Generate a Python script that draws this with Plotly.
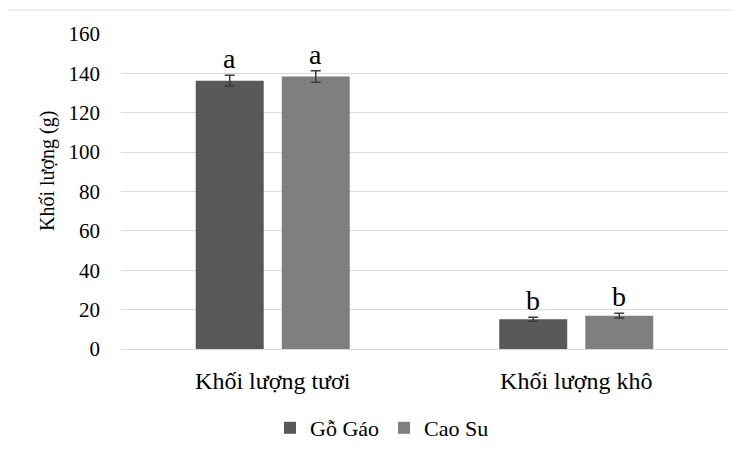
import plotly.graph_objects as go

categories = ["Khối lượng tươi", "Khối lượng khô"]
series_names = ["Gỗ Gáo", "Cao Su"]
go_gao = [136.3, 15.1]
cao_su = [138.4, 16.9]
go_gao_err = [2.7, 1.0]
cao_su_err = [2.9, 1.2]
go_gao_letters = ["a", "b"]
cao_su_letters = ["a", "b"]
y_ticks = [0, 20, 40, 60, 80, 100, 120, 140, 160]
y_title = "Khối lượng (g)"

colors = ["#595959", "#7f7f7f"]
font_family = "'Times New Roman', 'Liberation Serif', serif"

# page body has an 8px default margin; work in screen pixels and convert
O = 8
SW, SH = 739, 452
W, H = SW - O, SH - O
plot_left, plot_right, plot_top, plot_bottom = 121, 728, 34, 349
ml = plot_left - O
mr = SW - plot_right
mt = plot_top - O
mb = SH - plot_bottom
pw = plot_right - plot_left
ph = plot_bottom - plot_top


def px_x(p):
    return (p - plot_left) / pw


def px_y(p):
    return (plot_bottom - p) / ph


fig = go.Figure()
values = [go_gao, cao_su]
errs = [go_gao_err, cao_su_err]
letters = [go_gao_letters, cao_su_letters]
for name, vals, err, col in zip(series_names, values, errs, colors):
    fig.add_trace(go.Bar(
        name=name, x=categories, y=vals, marker=dict(color=col, line=dict(width=0)),
        error_y=dict(type="data", array=err, visible=True, color="#3a3a3a", thickness=1.5, width=5),
    ))

bargap = 0.433
offset = (1 - bargap) / 4
for s, (vals, err, lets) in enumerate(zip(values, errs, letters)):
    for i, (v, e, t) in enumerate(zip(vals, err, lets)):
        fig.add_annotation(
            x=i + (-offset if s == 0 else offset), y=v + e, xref="x", yref="y",
            text=t, showarrow=False, yanchor="bottom", yshift=-1,
            font=dict(family=font_family, size=28, color="#000000"),
        )

fig.add_annotation(
    x=px_x(47), y=px_y(171), xref="paper", yref="paper", text=y_title,
    textangle=-90, showarrow=False, xanchor="center", yanchor="middle",
    font=dict(family=font_family, size=20, color="#000000"),
)

fig.add_shape(type="rect", xref="paper", yref="paper",
              x0=px_x(7), x1=px_x(SW + 20), y0=px_y(SH + 20), y1=px_y(10),
              line=dict(color="#d9d9d9", width=1), fillcolor="rgba(0,0,0,0)", layer="below")

fig.update_layout(
    width=W, height=H,
    margin=dict(l=ml, r=mr, t=mt, b=mb, autoexpand=False),
    paper_bgcolor="white", plot_bgcolor="white",
    barmode="group", bargap=bargap, bargroupgap=0.21,
    font=dict(family=font_family, color="#000000"),
    showlegend=True,
    legend=dict(orientation="h", x=px_x(382), xanchor="center", y=px_y(428), yanchor="middle",
                font=dict(size=22, family=font_family), itemwidth=30, traceorder="normal"),
    xaxis=dict(showgrid=False, showline=True, linecolor="#d9d9d9", linewidth=1, automargin=False,
               tickfont=dict(size=24, family=font_family), ticks="", ticklabelstandoff=10),
    yaxis=dict(range=[0, 160], tickvals=y_ticks, showgrid=True, gridcolor="#d9d9d9", gridwidth=1,
               zeroline=False, showline=False, automargin=False,
               tickfont=dict(size=21, family=font_family), ticklabelstandoff=20),
)

fig.write_html("out.html")
